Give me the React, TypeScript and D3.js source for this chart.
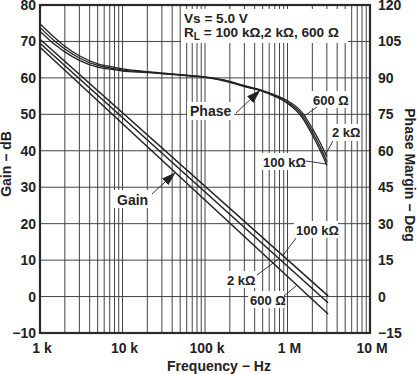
import React, { useEffect, useRef } from 'react';
import * as d3 from 'd3';

const W = 417;
const H = 374;
const M = { left: 40, right: 47, top: 5, bottom: 41 };

/* ── Data ─────────────────────────────────────────────────────── */
const gainTicks = [-10, 0, 10, 20, 30, 40, 50, 60, 70, 80];
const phaseTicks = [-15, 0, 15, 30, 45, 60, 75, 90, 105, 120];
const freqTicks = [1e3, 1e4, 1e5, 1e6, 1e7];
const freqLabels = ['1 k', '10 k', '100 k', '1 M', '10 M'];

// open-loop gain, straight on log axis (end points)
const gainFreq = [1e3, 3.1e6];
const gain100k = [70.6, 0.2];
const gain2k = [69.5, -1.7];
const gain600 = [68.4, -4.8];

// phase margin, degrees
const phaseFreq = [1e3, 1.5e3, 2e3, 3e3, 5e3, 7e3, 1e4, 2e4, 5e4, 1e5, 2e5, 3e5, 5e5, 7e5, 1e6, 1.5e6, 2e6, 2.5e6, 3e6];
const phase600 = [112.3, 106.6, 103.0, 99.1, 95.8, 94.7, 93.7, 92.6, 91.3, 90.4, 88.6, 86.8, 84.8, 83.0, 80.6, 75.8, 69.2, 63.2, 57.5];
const phase2k = [110.8, 105.2, 101.9, 98.2, 95.1, 94.1, 93.2, 92.4, 91.2, 90.3, 88.4, 86.6, 84.6, 82.7, 80.0, 74.8, 67.8, 61.5, 55.5];
const phase100k = [109.2, 103.8, 100.7, 97.2, 94.4, 93.6, 92.8, 92.2, 91.1, 90.2, 88.2, 86.4, 84.4, 82.4, 79.5, 73.8, 66.5, 60.0, 54.0];

const FONT = '"Liberation Sans", Arial, Helvetica, sans-serif';
const INK = '#222';

// value on a series at frequency f (linear in log f)
const at = (fs: number[], vs: number[], f: number) => {
  const lf = Math.log10(f);
  for (let i = 0; i < fs.length - 1; i++) {
    const a = Math.log10(fs[i]), b = Math.log10(fs[i + 1]);
    if (lf >= a && lf <= b) return vs[i] + (vs[i + 1] - vs[i]) * (lf - a) / (b - a);
  }
  return vs[vs.length - 1];
};

export default function App() {
  const svgRef = useRef<SVGSVGElement>(null);

  useEffect(() => {
    if (!svgRef.current) return;
    const svg = d3.select(svgRef.current);
    svg.selectAll('*').remove();

    const x0 = M.left, x1 = W - M.right, y0 = M.top, y1 = H - M.bottom;
    const x = d3.scaleLog().domain([1e3, 1e7]).range([x0, x1]);
    const yG = d3.scaleLinear().domain([-10, 80]).range([y1, y0]);
    const yP = d3.scaleLinear().domain([-15, 120]).range([y1, y0]);

    svg.append('rect').attr('width', W).attr('height', H).attr('fill', '#fff');

    const defs = svg.append('defs');
    defs.append('marker').attr('id', 'arr')
      .attr('viewBox', '0 -5 14 10').attr('refX', 13).attr('refY', 0)
      .attr('markerUnits', 'userSpaceOnUse')
      .attr('markerWidth', 14).attr('markerHeight', 10).attr('orient', 'auto')
      .append('path').attr('d', 'M0,-4.5L14,0L0,4.5Z').attr('fill', INK);

    // grid
    const g = svg.append('g');
    const minor: number[] = [];
    for (let d = 3; d < 7; d++) for (let k = 1; k <= 9; k++) minor.push(k * 10 ** d);
    g.selectAll('.vg').data(minor.filter(f => f > 1e3)).enter().append('line')
      .attr('x1', d => x(d)).attr('x2', d => x(d)).attr('y1', y0).attr('y2', y1)
      .attr('stroke', '#444').attr('stroke-width', 1);
    g.selectAll('.hg').data(gainTicks).enter().append('line')
      .attr('x1', x0).attr('x2', x1).attr('y1', d => yG(d)).attr('y2', d => yG(d))
      .attr('stroke', '#444').attr('stroke-width', 1);

    // white label boxes
    const box = (bx: number, by: number, bw: number, bh: number) =>
      svg.append('rect').attr('x', bx).attr('y', by).attr('width', bw).attr('height', bh).attr('fill', '#fff');
    box(181, 9, 167, 34);
    box(187, 102, 47, 18);
    box(114, 190, 36, 18);
    box(311, 91, 39, 17);
    box(330, 124, 30, 17);
    box(261, 153, 46, 17);
    box(294, 221, 44, 17);
    box(225, 271, 32, 17);
    box(248, 291, 36, 17);

    // curves
    const gainLine = d3.line<[number, number]>().x(d => x(d[0])).y(d => yG(d[1]));
    [gain100k, gain2k, gain600].forEach(s => {
      svg.append('path').attr('d', gainLine(gainFreq.map((f, i) => [f, s[i]]) as [number, number][])!)
        .attr('fill', 'none').attr('stroke', INK).attr('stroke-width', 1.5);
    });
    const phaseLine = d3.line<[number, number]>().x(d => x(d[0])).y(d => yP(d[1])).curve(d3.curveMonotoneX);
    [phase600, phase2k, phase100k].forEach(s => {
      svg.append('path').attr('d', phaseLine(phaseFreq.map((f, i) => [f, s[i]]) as [number, number][])!)
        .attr('fill', 'none').attr('stroke', INK).attr('stroke-width', 1.3);
    });

    // frame
    svg.append('rect').attr('x', x0).attr('y', y0).attr('width', x1 - x0).attr('height', y1 - y0)
      .attr('fill', 'none').attr('stroke', '#2a2a2a').attr('stroke-width', 2.2);

    const txt = (tx: number, ty: number, s: string, size = 14, anchor = 'start') =>
      svg.append('text').attr('x', tx).attr('y', ty).attr('font-family', FONT)
        .attr('font-weight', 'bold').attr('font-size', size).attr('fill', INK)
        .attr('text-anchor', anchor).text(s);

    // ticks
    gainTicks.forEach(t => txt(36, yG(t) + 5, t < 0 ? `\u2212${-t}` : `${t}`, 14, 'end'));
    phaseTicks.forEach(t => txt(378, yP(t) + 5, t < 0 ? `\u2212${-t}` : `${t}`, 14, 'start'));
    freqTicks.forEach((f, i) => txt(x(f) + 2, 353, freqLabels[i], 14, 'middle'));

    // axis titles
    txt(219, 371, 'Frequency \u2212 Hz', 14, 'middle');
    txt(0, 0, 'Gain \u2212 dB', 14, 'middle').attr('transform', 'translate(11,164) rotate(-90)');
    txt(0, 0, 'Phase Margin \u2212 Deg', 14, 'middle').attr('transform', 'translate(405,175) rotate(90)');

    // conditions
    txt(184, 23, 'Vs = 5.0 V', 13.6);
    const rl = txt(184, 37, 'R', 13.6);
    rl.append('tspan').attr('font-size', 10).attr('dy', 3).text('L');
    rl.append('tspan').attr('dy', -3).text(' = 100 k\u03A9,2 k\u03A9, 600  \u03A9');

    // curve names
    txt(190, 116, 'Phase', 14);
    txt(117, 205, 'Gain', 14);

    const lead = (ax: number, ay: number, bx: number, by: number, arrow = false) => {
      const l = svg.append('line').attr('x1', ax).attr('y1', ay).attr('x2', bx).attr('y2', by)
        .attr('stroke', INK).attr('stroke-width', 0.9);
      if (arrow) l.attr('marker-end', 'url(#arr)');
    };
    // arrows
    const fP = 4.6e5;
    lead(236, 113, x(fP), yP(at(phaseFreq, phase600, fP)) + 1, true);
    const fG = 4.3e4;
    lead(152, 194, x(fG), yG(at(gainFreq, gain600, fG)) + 1, true);

    // phase load labels
    txt(313, 105, '600 \u03A9', 13);
    lead(317, 107, x(1.6e6), yP(at(phaseFreq, phase600, 1.6e6)));
    txt(332, 137, '2 k\u03A9', 13);
    lead(333, 141, x(2.8e6), yP(at(phaseFreq, phase2k, 2.8e6)));
    txt(263, 167, '100 k\u03A9', 13);
    lead(306, 161, x(2.95e6), yP(at(phaseFreq, phase100k, 2.95e6)));

    // gain load labels
    txt(296, 235, '100 k\u03A9', 13);
    lead(296, 238, x(8.8e5), yG(at(gainFreq, gain100k, 8.8e5)));
    txt(227, 285, '2 k\u03A9', 13);
    lead(257, 275, x(7.9e5), yG(at(gainFreq, gain2k, 7.9e5)));
    txt(250, 305, '600 \u03A9', 13);
    lead(284, 296, x(1.3e6), yG(at(gainFreq, gain600, 1.3e6)));
  }, []);

  return (
    <svg ref={svgRef} width={W} height={H}
      style={{ position: 'absolute', left: 0, top: 0, display: 'block' }} />
  );
}
